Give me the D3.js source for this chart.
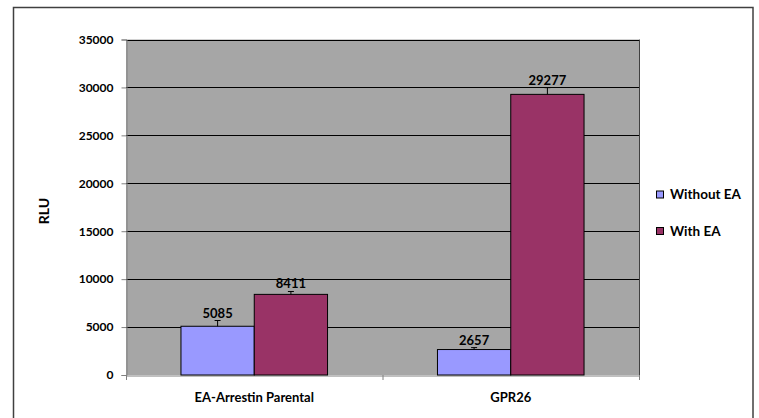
<!DOCTYPE html>
<html><head><meta charset="utf-8">
<script src="https://cdn.jsdelivr.net/npm/d3@7"></script>
<style>body{margin:0;background:#fff}svg{display:block}text{font-family:Lato,"Open Sans",sans-serif;font-weight:bold;fill:#000}</style>
</head><body><svg id="c" width="759" height="418"></svg>
<script>
const categories = ["EA-Arrestin Parental", "GPR26"];
const seriesNames = ["Without EA", "With EA"];
const withoutEA = [5085, 2657];
const withEA = [8411, 29277];
const withoutEAErr = [600, 200];
const withEAErr = [300, 700];
const yTicks = [0, 5000, 10000, 15000, 20000, 25000, 30000, 35000];
const colors = ["#9999FF", "#993366"];

const svg = d3.select("#c");
svg.append("rect").attr("x",13.5).attr("y",7.5).attr("width",739.5).attr("height",420)
  .attr("fill","#fff").attr("stroke","#404040").attr("stroke-width",1.5);

const L=126, R=639, T=39.5, B=375;
const x = d3.scaleBand().domain(categories).range([L,R]);
const y = d3.scaleLinear().domain([0,35000]).range([B,T]);

svg.append("rect").attr("x",L).attr("y",T).attr("width",R-L).attr("height",B-T).attr("fill","#A6A6A6");
svg.append("g").selectAll("line").data(yTicks.filter(d=>d>0)).join("line")
  .attr("x1",L).attr("x2",R).attr("y1",d=>Math.round(y(d))+0.5).attr("y2",d=>Math.round(y(d))+0.5)
  .attr("stroke","#000").attr("stroke-width",1);
svg.append("line").attr("x1",R+0.5).attr("x2",R+0.5).attr("y1",T).attr("y2",B).attr("stroke","#404040");

const yAxis = d3.axisLeft(y).tickValues(yTicks).tickSize(5).tickPadding(8).tickFormat(d3.format("d"));
const gy = svg.append("g").attr("transform",`translate(${L+0.5},0)`).call(yAxis);
gy.select(".domain").attr("stroke","#808080");
gy.selectAll(".tick line").attr("stroke","#808080");
gy.selectAll("text").style("font-size","12px");

const xAxis = d3.axisBottom(x).tickSize(0).tickPadding(17);
const gx = svg.append("g").attr("transform",`translate(0,${B+0.5})`).call(xAxis);
gx.select(".domain").attr("stroke","#808080");
gx.selectAll("text").style("font-size","13px");
const bounds = [L, L + x.step(), R];
svg.append("g").selectAll("line").data(bounds).join("line")
  .attr("x1",d=>d+0.5).attr("x2",d=>d+0.5).attr("y1",B).attr("y2",B+5).attr("stroke","#808080");

const bw = x.bandwidth()/3.5;
const xs = d3.scaleBand().domain(seriesNames).range([0, bw*2]);
const data = [withoutEA, withEA];
const errs = [withoutEAErr, withEAErr];
seriesNames.forEach((s,si)=>{
  categories.forEach((c,ci)=>{
    const v = data[si][ci], e = errs[si][ci];
    const bx = x(c) + x.bandwidth()/2 - bw + xs(s);
    svg.append("rect").attr("x",bx).attr("y",y(v)).attr("width",xs.bandwidth()).attr("height",B-y(v))
      .attr("fill",colors[si]).attr("stroke","#000").attr("stroke-width",1);
    const cx = bx + xs.bandwidth()/2;
    svg.append("line").attr("x1",cx).attr("x2",cx).attr("y1",y(v)).attr("y2",y(v+e)).attr("stroke","#000");
    svg.append("line").attr("x1",cx-3).attr("x2",cx+3).attr("y1",y(v+e)).attr("y2",y(v+e)).attr("stroke","#000");
    svg.append("text").attr("x",cx).attr("y",y(v+e)-3).attr("text-anchor","middle")
      .style("font-size","13px").text(v);
  });
});

svg.append("text").attr("transform","translate(49,211) rotate(-90)").attr("text-anchor","middle")
  .style("font-size","14px").text("RLU");

const lg = svg.append("g");
seriesNames.forEach((s,i)=>{
  const ly = 194.5 + i*36.5;
  lg.append("rect").attr("x",656.5).attr("y",ly-3.5).attr("width",7).attr("height",7)
    .attr("fill",colors[i]).attr("stroke","#000");
  lg.append("text").attr("x",670).attr("y",ly).attr("dy","0.35em").style("font-size","13.5px").text(s);
});
</script></body></html>
